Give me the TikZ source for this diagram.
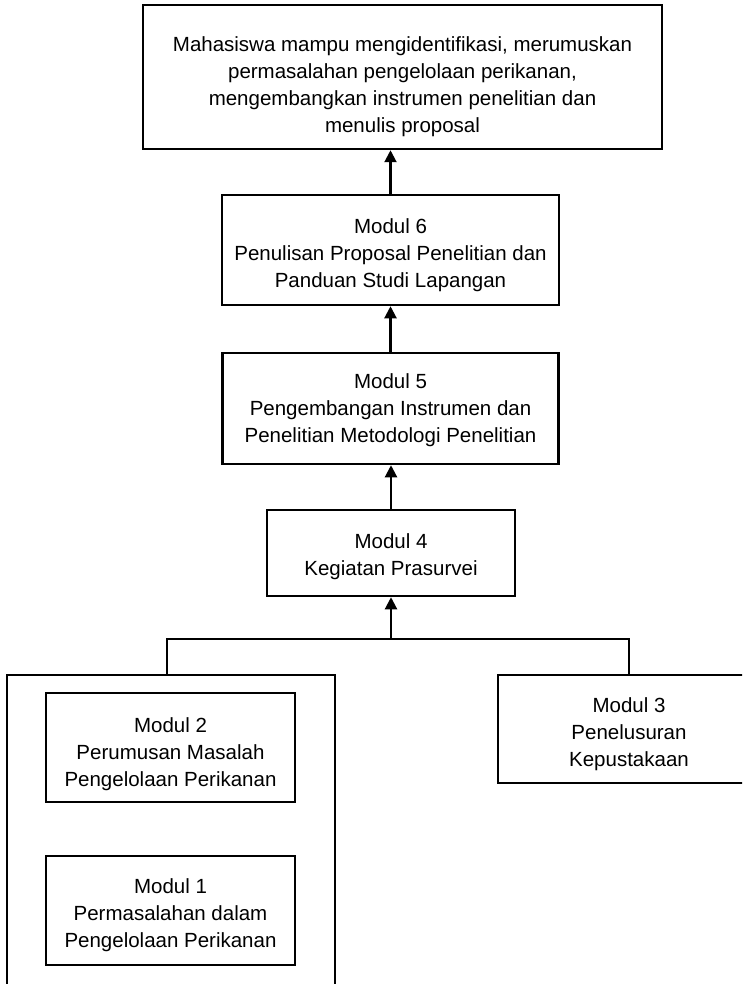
\documentclass[tikz,border=0pt]{standalone}
\usepackage{fontspec}
\setmainfont{Liberation Sans}
\usetikzlibrary{arrows.meta}
\newcommand{\topgap}[1]{\rule{0pt}{#1}}
\tikzset{every node/.style={align=center, inner sep=0pt, font=\fontsize{20.5}{27}\selectfont}, box/.style={draw, rectangle, line width=2.5pt}, up/.style={line width=2.1pt, -{Triangle[width=12pt,length=12pt]}}}

\begin{document}
\begin{tikzpicture}[x=1pt, y=-1pt, line width=2.1pt]
  \clip (0,0) rectangle (742,984);
  \node[box, minimum width=519pt, minimum height=144pt] (goal) at (402.5, 77) {\topgap{35pt}Mahasiswa mampu mengidentifikasi, merumuskan\\ permasalahan pengelolaan perikanan,\\ mengembangkan instrumen penelitian dan\\ menulis proposal};
  \node[box, minimum width=337pt, minimum height=110pt] (m6) at (390.5, 250) {\topgap{26pt}Modul 6\\ Penulisan Proposal Penelitian dan\\ Panduan Studi Lapangan};
  \node[box, minimum width=336pt, minimum height=111pt] (m5) at (390.5, 408.5) {\topgap{19pt}Modul 5\\ Pengembangan Instrumen dan\\ Penelitian Metodologi Penelitian};
  \node[box, minimum width=248pt, minimum height=86pt] (m4) at (391, 553) {\topgap{23pt}Modul 4\\ Kegiatan Prasurvei};
  \node[box, minimum width=328pt, minimum height=330pt] (grp) at (171, 840) {};
  \node[box, minimum width=249pt, minimum height=109pt] (m2) at (170.5, 747.5) {\topgap{29pt}Modul 2\\ Perumusan Masalah\\ Pengelolaan Perikanan};
  \node[box, minimum width=249pt, minimum height=109pt] (m1) at (170.5, 910.5) {\topgap{25pt}Modul 1\\ Permasalahan dalam\\ Pengelolaan Perikanan};
  \node[box, minimum width=262pt, minimum height=108pt] (m3) at (629, 729) {\topgap{25pt}Modul 3\\ Penelusuran\\ Kepustakaan};
  \coordinate (jn) at (391, 639);
  \coordinate (jl) at (167, 639);
  \coordinate (jr) at (629, 639);

  \draw[up] (m6.north) -- (m6.north |- goal.south);
  \draw[up] (m5.north) -- (m5.north |- m6.south);
  \draw[up] (m4.north) -- (m4.north |- m5.south);
  \draw[up] (jn) -- (m4.south);
  \draw (jl |- grp.north) -- (jl) -- (jr) -- (m3.north);
\end{tikzpicture}
\end{document}
